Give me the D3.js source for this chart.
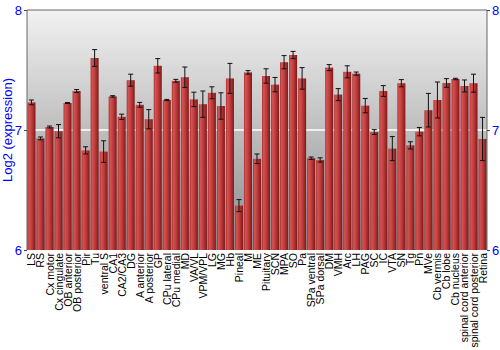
<!DOCTYPE html>
<html>
<head>
<meta charset="utf-8">
<script src="https://cdn.jsdelivr.net/npm/d3@7"></script>
<style>
  body { margin: 0; background: #fff; }
  svg { font-family: "Liberation Sans", Arial, sans-serif; }
</style>
</head>
<body>
<div id="chart"></div>
<script>
const regions = ["LS", "RS", "Cx motor", "Cx cingulate", "OB anterior", "OB posterior", "Pir", "Tu",
  "ventral S", "CA1", "CA2/CA3", "DG", "A anterior", "A posterior", "GP", "CPu lateral", "CPu medial",
  "MD", "VA/VL", "VPM/VPL", "LG", "MG", "Hb", "Pineal", "M", "ME", "Pituitary", "SCN", "MPA", "SO",
  "Pa", "SPa ventral", "SPa dorsal", "DM", "VMH", "Arc", "LH", "PAG", "SC", "IC", "VTA", "SN", "Tg",
  "Pn", "MVe", "Cb vermis", "Cb lobe", "Cb nucleus", "spinal cord anterior", "spinal cord posterior", "Retina"];

const expression = [7.23, 6.93, 7.025, 6.99, 7.225, 7.325, 6.83, 7.60, 6.82, 7.28, 7.11, 7.415,
  7.21, 7.09, 7.535, 7.25, 7.41, 7.44, 7.255, 7.215, 7.31, 7.20, 7.43, 6.37, 7.48, 6.76, 7.45,
  7.378, 7.565, 7.625, 7.43, 6.765, 6.75, 7.52, 7.295, 7.485, 7.47, 7.203, 6.983, 7.325, 6.845,
  7.39, 6.872, 6.986, 7.165, 7.25, 7.392, 7.425, 7.367, 7.39, 6.925];

const errors = [0.02, 0.012, 0.008, 0.055, 0.004, 0.012, 0.03, 0.07, 0.09, 0.006, 0.022, 0.05,
  0.02, 0.08, 0.06, 0.005, 0.012, 0.085, 0.06, 0.11, 0.05, 0.11, 0.125, 0.05, 0.015, 0.04, 0.06,
  0.06, 0.055, 0.03, 0.09, 0.01, 0.018, 0.025, 0.05, 0.05, 0.013, 0.06, 0.02, 0.045, 0.10,
  0.03, 0.03, 0.035, 0.14, 0.15, 0.036, 0.006, 0.05, 0.075, 0.18];

const yTicks = [6, 7, 8];

const width = 500, height = 350;
const margin = { top: 10, right: 13, bottom: 100, left: 27 };

const svg = d3.select("#chart").append("svg")
  .attr("width", width)
  .attr("height", height);

const defs = svg.append("defs");
const bg = defs.append("linearGradient").attr("id", "bg")
  .attr("x1", 0).attr("y1", 0).attr("x2", 0).attr("y2", 1);
bg.append("stop").attr("offset", "0%").attr("stop-color", "#f2f2f2");
bg.append("stop").attr("offset", "100%").attr("stop-color", "#8a8a8a");

const barGrad = defs.append("linearGradient").attr("id", "bar")
  .attr("x1", 0).attr("y1", 0).attr("x2", 1).attr("y2", 0);
barGrad.append("stop").attr("offset", "0%").attr("stop-color", "#a83232");
barGrad.append("stop").attr("offset", "20%").attr("stop-color", "#d65252");
barGrad.append("stop").attr("offset", "55%").attr("stop-color", "#bf3a3a");
barGrad.append("stop").attr("offset", "100%").attr("stop-color", "#7c1a1a");

const x = d3.scaleBand()
  .domain(regions)
  .range([margin.left, width - margin.right])
  .paddingInner(0.11)
  .paddingOuter(0.05);

const y = d3.scaleLinear()
  .domain([6, 8])
  .range([height - margin.bottom, margin.top]);

// plot background
svg.append("rect")
  .attr("x", margin.left)
  .attr("y", margin.top)
  .attr("width", width - margin.left - margin.right)
  .attr("height", height - margin.top - margin.bottom)
  .attr("fill", "url(#bg)");

// grid line at 7
svg.append("line")
  .attr("x1", margin.left).attr("x2", width - margin.right)
  .attr("y1", y(7)).attr("y2", y(7))
  .attr("stroke", "#fff").attr("stroke-width", 1.5);

// bars
svg.selectAll("rect.bar")
  .data(regions)
  .join("rect")
  .attr("class", "bar")
  .attr("x", d => x(d))
  .attr("width", x.bandwidth())
  .attr("y", (d, i) => y(expression[i]))
  .attr("height", (d, i) => y(6) - y(expression[i]))
  .attr("fill", "url(#bar)");

// error bars
const eb = svg.append("g").attr("stroke", "#111").attr("stroke-width", 1);
regions.forEach((d, i) => {
  const cx = x(d) + x.bandwidth() / 2;
  const lo = y(expression[i] - errors[i]), hi = y(expression[i] + errors[i]);
  eb.append("line").attr("x1", cx).attr("x2", cx).attr("y1", lo).attr("y2", hi);
  eb.append("line").attr("x1", cx - 2.5).attr("x2", cx + 2.5).attr("y1", lo).attr("y2", lo);
  eb.append("line").attr("x1", cx - 2.5).attr("x2", cx + 2.5).attr("y1", hi).attr("y2", hi);
});

// frame
svg.append("path")
  .attr("d", `M${margin.left},${height - margin.bottom}V${margin.top}H${width - margin.right}V${height - margin.bottom}`)
  .attr("fill", "none")
  .attr("stroke", "#666");

// y axes
const yLeft = svg.append("g")
  .attr("transform", `translate(${margin.left},0)`)
  .call(d3.axisLeft(y).tickValues(yTicks).tickFormat(d3.format("d")).tickSize(3));
const yRight = svg.append("g")
  .attr("transform", `translate(${width - margin.right},0)`)
  .call(d3.axisRight(y).tickValues(yTicks).tickFormat(d3.format("d")).tickSize(3));
[yLeft, yRight].forEach(g => {
  g.select(".domain").remove();
  g.selectAll(".tick line").attr("stroke", "#444");
  g.selectAll(".tick text")
    .attr("fill", "#0000ff")
    .style("font-size", "13px")
    .style("font-family", "Liberation Sans, Arial, sans-serif");
});
yLeft.selectAll(".tick text").attr("x", -5);
yRight.selectAll(".tick text").attr("x", 5);

// x labels
svg.append("g")
  .selectAll("text")
  .data(regions)
  .join("text")
  .attr("transform", d => `translate(${x(d) + x.bandwidth() / 2 + 4},${height - margin.bottom + 3}) rotate(-90)`)
  .attr("text-anchor", "end")
  .style("font-size", "10.5px")
  .attr("fill", "#000")
  .text(d => d);

// y label
svg.append("text")
  .attr("transform", `translate(12,${(margin.top + height - margin.bottom) / 2}) rotate(-90)`)
  .attr("text-anchor", "middle")
  .attr("fill", "#0000ff")
  .style("font-size", "13px")
  .text("Log2 (expression)");
</script>
</body>
</html>
